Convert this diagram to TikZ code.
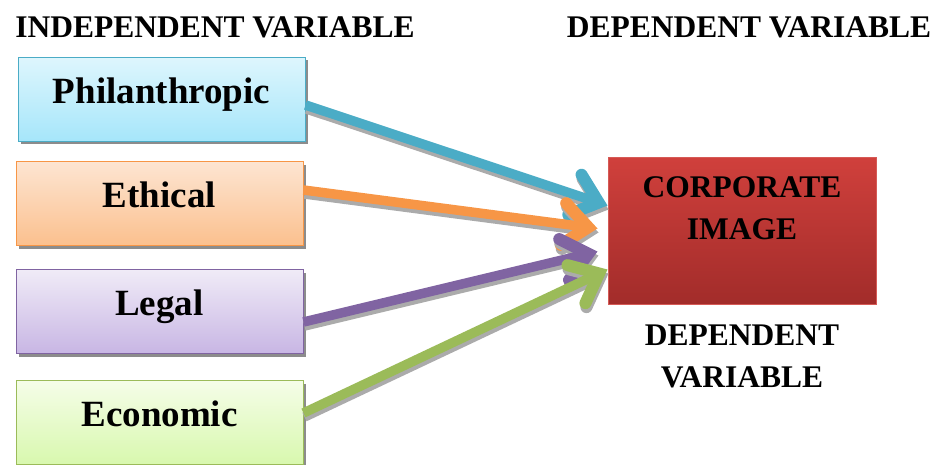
\documentclass[tikz,border=0pt]{standalone}
\usepackage{fontspec}
\setmainfont{Liberation Serif}
\usetikzlibrary{arrows.meta,shadows,calc}

\definecolor{phline}{HTML}{4BACC6}
\definecolor{phtop}{HTML}{DEF6FD}
\definecolor{phbot}{HTML}{A6E6FA}
\definecolor{etline}{HTML}{F79646}
\definecolor{ettop}{HTML}{FDE5D2}
\definecolor{etbot}{HTML}{FBC08E}
\definecolor{lgline}{HTML}{8064A2}
\definecolor{lgtop}{HTML}{F0EBF7}
\definecolor{lgbot}{HTML}{C8B6E4}
\definecolor{ecline}{HTML}{9BBB59}
\definecolor{ectop}{HTML}{F5FDE8}
\definecolor{ecbot}{HTML}{D8F8AE}
\definecolor{cptop}{HTML}{D0403C}
\definecolor{cpbot}{HTML}{A22C2A}
\definecolor{cpline}{HTML}{D65A56}

\begin{document}
\begin{tikzpicture}[x=1pt, y=-1pt]

	\useasboundingbox (0,0) rectangle (941,464);

	% ---------- Helper styles ----------
	\tikzset{
		heading/.style={font=\fontsize{31.5}{42}\selectfont\bfseries, align=center, inner sep=0pt},
		varbox/.style={draw=#1, line width=1pt, minimum width=287pt, minimum height=84pt,
			inner sep=0pt, text height=24pt, text depth=16pt,
			font=\fontsize{37}{44}\selectfont\bfseries,
			drop shadow={shadow xshift=3pt, shadow yshift=-3pt, fill=black!45, opacity=1}},
		link/.style={line width=9.5pt, draw=#1,
			-{Straight Barb[length=25pt, width=42pt, line width=12pt, line cap=round, line join=miter]}},
		linkshadow/.style={link=black!33, transform canvas={shift={(1pt,-4pt)}}}
	}

	% ---------- Titles ----------
	\node[heading] (indep) at (215,27) {INDEPENDENT VARIABLE};
	\node[heading] (dep) at (749,27) {DEPENDENT VARIABLE};

	% ---------- Independent variables (left) ----------
	\node[varbox=phline, top color=phtop, bottom color=phbot] (phil) at (161.5,99) {Philanthropic};
	\node[varbox=etline, top color=ettop, bottom color=etbot] (eth) at (159.5,203.5) {Ethical};
	\node[varbox=lgline, top color=lgtop, bottom color=lgbot] (leg) at (159.5,311.5) {Legal};
	\node[varbox=ecline, top color=ectop, bottom color=ecbot] (eco) at (159.5,422.5) {Economic};

	% ---------- Dependent variable (right) ----------
	\node[draw=cpline, line width=1pt, top color=cptop, bottom color=cpbot,
		minimum width=268pt, minimum height=147pt] (corp) at (742,230.5) {};
	\node[heading] (corptxt) at ($(corp.north)+(0,52)$) {CORPORATE\\IMAGE};
	\node[heading] (deplbl) at (742,356) {DEPENDENT\\VARIABLE};

	% ---------- Arrow ends on the corporate image ----------
	\coordinate (tipph) at ($(corp.north west)+(0,49)$);
	\coordinate (tipet) at ($(corp.north west)+(-10,72)$);
	\coordinate (tiplg) at ($(corp.north west)+(-10,95)$);
	\coordinate (tipec) at ($(corp.north west)+(0,113)$);

	% ---------- Arrows ----------
	\foreach \src/\dy/\tip/\col in {phil/6/tipph/phline, eth/-13.5/tipet/etline,
		leg/10.5/tiplg/lgline, eco/-9.5/tipec/ecline} {
		\draw[linkshadow] ($(\src.east)+(0,\dy)$) -- (\tip);
		\draw[link=\col] ($(\src.east)+(0,\dy)$) -- (\tip);
	}

\end{tikzpicture}
\end{document}
